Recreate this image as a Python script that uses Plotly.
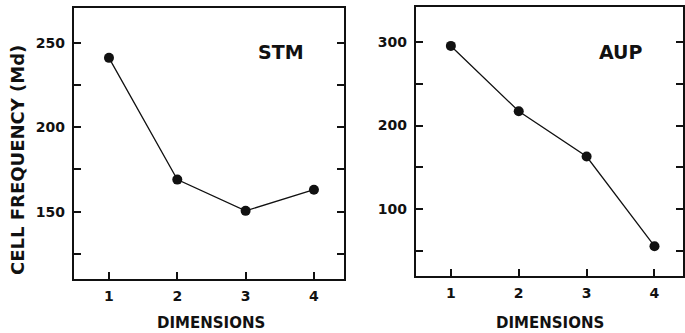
import plotly.graph_objects as go

# Median cell frequency by number of dimensions, two tasks
dimensions = [1, 2, 3, 4]
stm_values = [241, 169, 150.5, 163]
aup_values = [295, 217, 163, 56]

stm_tickvals = [125, 150, 175, 200, 225, 250]
stm_ticktext = ["", "150", "", "200", "", "250"]
aup_tickvals = [50, 100, 150, 200, 250, 300]
aup_ticktext = ["", "100", "", "200", "", "300"]
x_ticktext = ["1", "2", "3", "4"]

panel_labels = ["STM", "AUP"]
x_title = "DIMENSIONS"
y_title = "CELL FREQUENCY (Md)"

W, H = 685, 333
FONT = "DejaVu Sans"
INK = "#111111"

fig = go.Figure()

fig.add_trace(go.Scatter(
    x=dimensions, y=stm_values, xaxis="x", yaxis="y",
    mode="lines+markers",
    line=dict(color=INK, width=1.3),
    marker=dict(color=INK, size=10),
    showlegend=False, hoverinfo="skip",
))
fig.add_trace(go.Scatter(
    x=dimensions, y=aup_values, xaxis="x2", yaxis="y2",
    mode="lines+markers",
    line=dict(color=INK, width=1.3),
    marker=dict(color=INK, size=10),
    showlegend=False, hoverinfo="skip",
    cliponaxis=False,
))

tickfont = dict(family=FONT, size=14, color=INK, weight="bold")

def xaxis_style(domain, rng, anchor):
    return dict(
        domain=domain, range=rng, anchor=anchor,
        tickvals=dimensions, ticktext=x_ticktext,
        ticks="inside", ticklen=7, tickwidth=1.5, tickcolor=INK,
        showline=True, linewidth=2, linecolor=INK, mirror=True,
        showgrid=False, zeroline=False,
        tickfont=tickfont, ticklabelstandoff=3,
    )

def yaxis_style(domain, rng, anchor, vals, text):
    return dict(
        domain=domain, range=rng, anchor=anchor,
        tickvals=vals, ticktext=text,
        ticks="inside", ticklen=7, tickwidth=1.5, tickcolor=INK,
        showline=True, linewidth=2, linecolor=INK, mirror="ticks",
        showgrid=False, zeroline=False,
        tickfont=tickfont, ticklabelstandoff=4,
    )

fig.update_layout(
    width=W, height=H,
    margin=dict(l=0, r=0, t=0, b=0),
    paper_bgcolor="white", plot_bgcolor="white",
    xaxis=xaxis_style([74 / W, 345 / W], [0.485, 4.44], "y"),
    yaxis=yaxis_style([(H - 279) / H, (H - 8) / H], [110.2, 270.5], "x",
                      stm_tickvals, stm_ticktext),
    xaxis2=xaxis_style([417 / W, 1.0], [0.483, 4.42], "y2"),
    yaxis2=yaxis_style([(H - 276) / H, (H - 6.7) / H], [20.4, 341.8], "x2",
                       aup_tickvals, aup_ticktext),
)

label_font = dict(family=FONT, size=19, color=INK, weight="bold")
title_font = dict(family=FONT, size=15, color=INK, weight="bold")

annotations = [
    dict(text=panel_labels[0], x=282 / W, y=(H - 52) / H,
         xref="paper", yref="paper", showarrow=False, font=label_font,
         xanchor="center", yanchor="middle"),
    dict(text=panel_labels[1], x=623 / W, y=(H - 52) / H,
         xref="paper", yref="paper", showarrow=False, font=label_font,
         xanchor="center", yanchor="middle"),
    dict(text=x_title, x=212 / W, y=(H - 323) / H,
         xref="paper", yref="paper", showarrow=False, font=title_font,
         xanchor="center", yanchor="middle"),
    dict(text=x_title, x=552 / W, y=(H - 323) / H,
         xref="paper", yref="paper", showarrow=False, font=title_font,
         xanchor="center", yanchor="middle"),
    dict(text=y_title, x=17 / W, y=(H - 160) / H,
         xref="paper", yref="paper", showarrow=False,
         font=dict(family=FONT, size=18, color=INK, weight="bold"),
         textangle=-90, xanchor="center", yanchor="middle"),
]
fig.update_layout(annotations=annotations)

fig.write_html("out.html")
